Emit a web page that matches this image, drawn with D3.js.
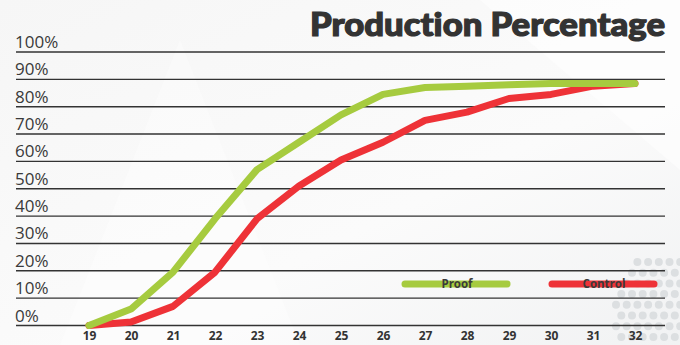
<!DOCTYPE html>
<html>
<head>
<meta charset="utf-8">
<script src="https://cdn.jsdelivr.net/npm/d3@7"></script>
<style>
  body { margin: 0; background: #fafafa; }
  svg { display: block; }
</style>
</head>
<body>
<svg id="chart" width="680" height="345"></svg>
<script>
// Data
var weeks = [19, 20, 21, 22, 23, 24, 25, 26, 27, 28, 29, 30, 31, 32];
var proof = [0, 6, 19.5, 39, 57, 67, 77, 84.5, 87, 87.5, 88, 88.5, 88.5, 88.5];
var control = [0, 1.3, 7, 19.5, 39, 51, 60.5, 67, 75, 78, 83, 84.5, 87.5, 88.5];
var yTicks = [0, 10, 20, 30, 40, 50, 60, 70, 80, 90, 100];
var seriesNames = ["Proof", "Control"];
var seriesColors = ["#a6cb3f", "#ee3237"];

var svg = d3.select('#chart');
var width = 680, height = 345;

// background
var defs = svg.append('defs');
var grad = defs.append('linearGradient').attr('id', 'bg').attr('x1', 0).attr('y1', 0).attr('x2', 1).attr('y2', 1);
grad.append('stop').attr('offset', '0%').attr('stop-color', '#f6f6f6');
grad.append('stop').attr('offset', '60%').attr('stop-color', '#fbfbfb');
grad.append('stop').attr('offset', '100%').attr('stop-color', '#f1f2f3');
svg.append('rect').attr('width', width).attr('height', height).attr('fill', 'url(#bg)');

// faint white chevron shapes
svg.append('path')
    .attr('d', 'M60,345 L180,40 L300,345 Z')
    .attr('fill', '#ffffff').attr('opacity', 0.35);
svg.append('path')
    .attr('d', 'M480,0 L680,0 L680,170 Z')
    .attr('fill', '#ffffff').attr('opacity', 0.5);

// dot pattern in the bottom right corner
var dots = [];
for (var r = 0; r < 8; r++) {
    for (var c = 0; c < 7; c++) {
        var cx = 616 + c * 10.7 + (r % 2) * 5.3;
        var cy = 262 + r * 10.7;
        if (cx - 616 + (cy - 262) * 0.55 > 14 && cx < 684) dots.push([cx, cy]);
    }
}
svg.append('g').selectAll('circle')
    .data(dots)
    .enter()
    .append('circle')
    .attr('cx', function(d) { return d[0]; })
    .attr('cy', function(d) { return d[1]; })
    .attr('r', 4)
    .attr('fill', '#dcdfe1');

// scales
var xScale = d3.scaleLinear().domain([19, 32]).range([89, 635]);
var yScale = d3.scaleLinear().domain([0, 100]).range([325.5, 52]);

// gridlines
svg.append('g').selectAll('line')
    .data(yTicks)
    .enter()
    .append('line')
    .attr('x1', 16)
    .attr('x2', 665)
    .attr('y1', function(d) { return yScale(d); })
    .attr('y2', function(d) { return yScale(d); })
    .attr('stroke', '#333')
    .attr('stroke-width', 1.4);

// y labels sit on top of each line
svg.append('g').selectAll('text')
    .data(yTicks)
    .enter()
    .append('text')
    .attr('x', 15)
    .attr('y', function(d) { return yScale(d) - 4; })
    .attr('font-family', 'Open Sans, sans-serif')
    .attr('font-size', 17)
    .attr('fill', '#3a3a3a')
    .text(function(d) { return d + '%'; });

// x axis labels
var xAxis = d3.axisBottom(xScale).tickValues(weeks).tickSize(0).tickPadding(0).tickFormat(d3.format('d'));
var xg = svg.append('g')
    .attr('transform', 'translate(0,331)')
    .call(xAxis);
xg.select('.domain').remove();
xg.selectAll('text')
    .attr('font-family', 'Open Sans, sans-serif')
    .attr('font-weight', 700)
    .attr('font-size', 12)
    .attr('fill', '#333');

// lines
var line = d3.line()
    .x(function(d, i) { return xScale(weeks[i]); })
    .y(function(d) { return yScale(d); });

svg.append('path')
    .attr('d', line(control))
    .attr('fill', 'none')
    .attr('stroke', seriesColors[1])
    .attr('stroke-width', 7)
    .attr('stroke-linejoin', 'round')
    .attr('stroke-linecap', 'round');

svg.append('path')
    .attr('d', line(proof))
    .attr('fill', 'none')
    .attr('stroke', seriesColors[0])
    .attr('stroke-width', 7)
    .attr('stroke-linejoin', 'round')
    .attr('stroke-linecap', 'round');

// legend
var legendX = [405, 552];
var legend = svg.append('g').selectAll('g')
    .data(seriesNames)
    .enter()
    .append('g')
    .attr('transform', function(d, i) { return 'translate(' + legendX[i] + ',284)'; });
legend.append('line')
    .attr('x1', 0).attr('x2', 102)
    .attr('stroke', function(d, i) { return seriesColors[i]; })
    .attr('stroke-width', 7)
    .attr('stroke-linecap', 'round');
legend.append('text')
    .attr('x', 52)
    .attr('y', 4)
    .attr('text-anchor', 'middle')
    .attr('font-family', 'Open Sans, sans-serif')
    .attr('font-weight', 700)
    .attr('font-size', 11.5)
    .attr('fill', '#3a3a3a')
    .text(function(d) { return d; });

// title
svg.append('text')
    .attr('x', 310)
    .attr('y', 36)
    .attr('textLength', 355)
    .attr('lengthAdjust', 'spacingAndGlyphs')
    .attr('font-family', 'Lato, Inter, sans-serif')
    .attr('font-weight', 900)
    .attr('font-size', 32)
    .attr('fill', '#333')
    .attr('stroke', '#333')
    .attr('stroke-width', 1.2)
    .style('font-variant-ligatures', 'none')
    .text('Production Percentage');
</script>
</body>
</html>
